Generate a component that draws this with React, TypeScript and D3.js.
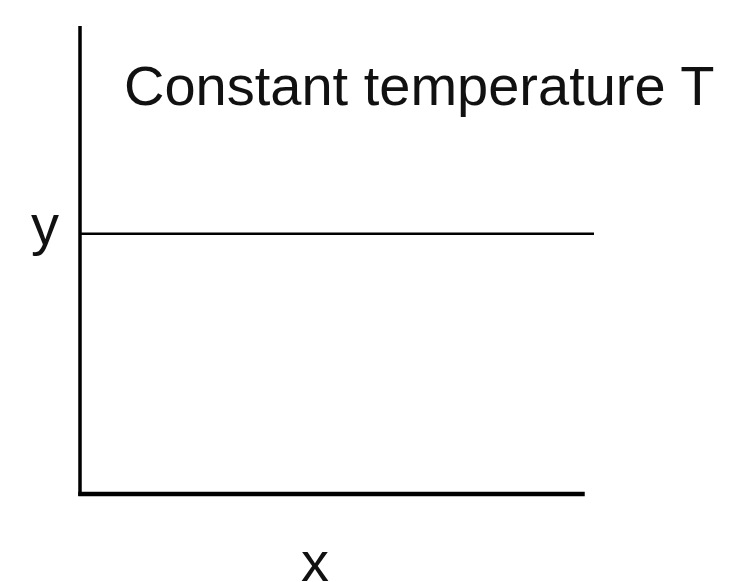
import * as d3 from 'd3';

// Schematic: a single isotherm at constant temperature T
const title = 'Constant temperature T';
const axisLabels = ['x', 'y'];
const isothermX = [0, 1];
const isothermY = [0.556, 0.556];
const axisExtent = [0, 0.982];

const width = 734;
const height = 582;

export default function App() {
  const x = d3.scaleLinear().domain([0, 1]).range([80, 594]);
  const y = d3.scaleLinear().domain([0, 1]).range([494, 26]);

  const line = d3.line<number>()
    .x((_, i) => x(isothermX[i]))
    .y(d => y(d));

  const font = '"Liberation Sans", Arial, sans-serif';

  return (
    <svg
      width={width}
      height={height}
      style={{ position: 'absolute', left: 0, top: 0, background: '#fff' }}
    >
      {/* isotherm */}
      <path d={line(isothermY) || ''} fill="none" stroke="#000" strokeWidth={2.5} />

      {/* axes */}
      <line x1={x(0)} x2={x(0)} y1={y(0) + 2} y2={y(1)} stroke="#000" strokeWidth={3.5} />
      <line
        x1={x(0) - 1.75}
        x2={x(axisExtent[1])}
        y1={y(0)}
        y2={y(0)}
        stroke="#000"
        strokeWidth={4.5}
      />

      <text x={124} y={105} fontFamily={font} fontSize={56} fill="#111">
        {title}
      </text>
      <text x={31} y={244} fontFamily={font} fontSize={56} fill="#111">
        {axisLabels[1]}
      </text>
      <text x={301} y={581} fontFamily={font} fontSize={56} fill="#111">
        {axisLabels[0]}
      </text>
    </svg>
  );
}
